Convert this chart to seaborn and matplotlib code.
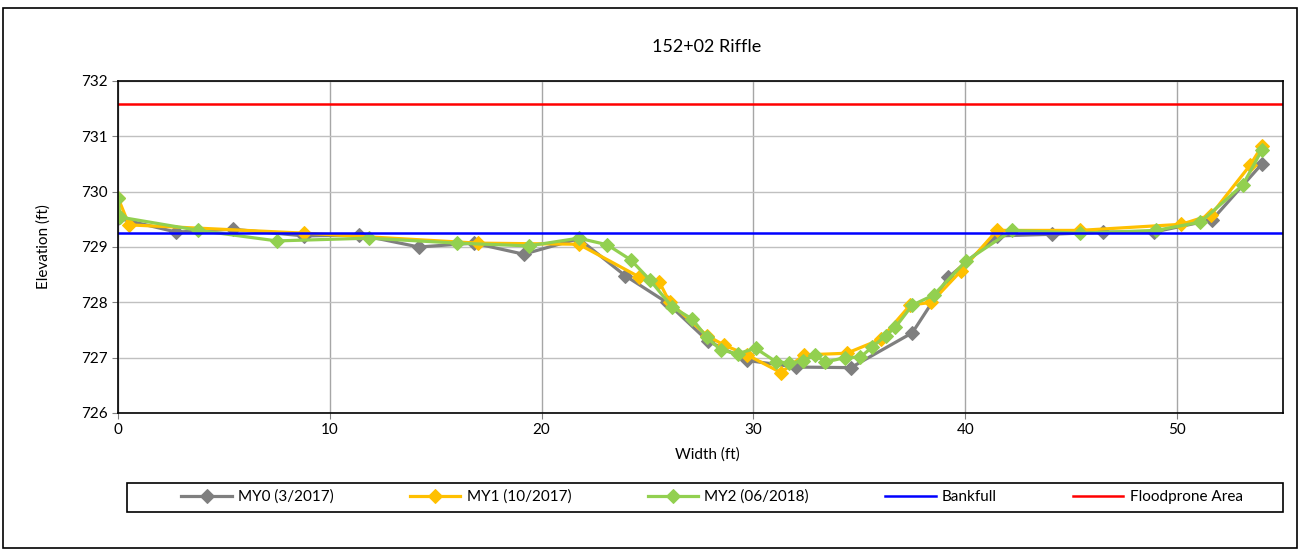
import numpy as np
import pandas as pd
import seaborn as sns
import matplotlib.pyplot as plt
from matplotlib.patches import Rectangle

# survey data
my0_x = [0, 2.75, 5.45, 8.8, 11.4, 14.2, 16.8, 19.15, 21.75, 23.95, 25.9, 27.85, 29.7,
         32.0, 34.6, 37.5, 39.2, 41.5, 44.1, 46.5, 48.9, 51.65, 54.0]
my0_y = [729.52, 729.27, 729.32, 729.2, 729.22, 729.0, 729.07, 728.87, 729.15, 728.48, 728.0, 727.3, 726.95,
         726.83, 726.82, 727.45, 728.45, 729.2, 729.23, 729.27, 729.27, 729.49, 730.5]

my1_x = [0, 0.52, 8.8, 17.0, 21.75, 24.6, 25.55, 26.05, 27.8, 28.6, 29.7, 31.3, 32.4, 34.4,
         36.0, 37.4, 38.4, 39.8, 41.5, 45.4, 50.2, 51.6, 53.45, 54.0]
my1_y = [729.89, 729.4, 729.25, 729.07, 729.05, 728.46, 728.37, 728.0, 727.4, 727.23, 727.05, 726.73, 727.05, 727.08,
         727.33, 727.95, 728.0, 728.57, 729.3, 729.3, 729.41, 729.58, 730.48, 730.82]

my2_x = [0, 0.1, 3.8, 7.5, 11.85, 16.0, 19.4, 21.75, 23.1, 24.2, 25.1, 26.15, 27.1, 27.8, 28.45,
         29.25, 30.1, 31.05, 31.7, 32.35, 32.9, 33.4, 34.3, 35.05, 35.6, 36.25, 36.7, 37.5, 38.5,
         40.05, 42.2, 45.4, 49.0, 51.1, 53.1, 54.0]
my2_y = [729.88, 729.54, 729.3, 729.11, 729.16, 729.07, 729.02, 729.16, 729.04, 728.77, 728.41, 727.92, 727.7, 727.37, 727.14,
         727.07, 727.17, 726.93, 726.9, 726.94, 727.05, 726.92, 727.0, 727.01, 727.19, 727.4, 727.55, 727.95, 728.13,
         728.75, 729.3, 729.25, 729.3, 729.45, 730.12, 730.75]

bankfull = 729.25
floodprone = 731.58

plt.rcParams['font.family'] = ['Lato', 'DejaVu Sans']

fig = plt.figure(figsize=(13, 5.5), dpi=100)
ax = fig.add_axes([118/1300, 1-413/550, (1283-118)/1300, (413-81)/550])

series = [
    ("MY0 (3/2017)", my0_x, my0_y, "#7f7f7f"),
    ("MY1 (10/2017)", my1_x, my1_y, "#ffc000"),
    ("MY2 (06/2018)", my2_x, my2_y, "#92d050"),
]
for name, xs, ys, col in series:
    df = pd.DataFrame({"x": xs, "y": ys})
    sns.lineplot(data=df, x="x", y="y", sort=False, estimator=None, ax=ax,
                 color=col, marker="D", markersize=7, markeredgecolor=col,
                 linewidth=2.3, label=name)

ax.axhline(bankfull, color="#0000ff", linewidth=1.8, label="Bankfull")
ax.axhline(floodprone, color="#ff0000", linewidth=1.8, label="Floodprone Area")

ax.set_xlim(0, 55)
ax.set_ylim(726, 732)
ax.set_xticks([0, 10, 20, 30, 40, 50])
ax.set_yticks(np.arange(726, 733, 1))
ax.grid(True, color="#c0c0c0", linewidth=1)
ax.xaxis.grid(True, color="#a6a6a6", linewidth=1)
ax.set_axisbelow(True)
for s in ax.spines.values():
    s.set_color("black")
    s.set_linewidth(1.2)
ax.tick_params(labelsize=11, length=4, color="#808080")
ax.set_xlabel("")
ax.set_ylabel("Elevation (ft)", fontsize=11, labelpad=22)

fig.text(707/1300, 1-47/550, "152+02 Riffle", fontsize=13, ha="center", va="center")
fig.text(707/1300, 1-455/550, "Width (ft)", fontsize=11, ha="center", va="center")

handles, labels = ax.get_legend_handles_labels()
ax.get_legend().remove()
leg = fig.legend(handles, labels, loc="center", ncol=5,
                 bbox_to_anchor=(712/1300, 1-497/550),
                 fontsize=11, frameon=False, handlelength=3.3,
                 columnspacing=5.0, handletextpad=0.4)

# legend box and outer chart border
fig.patches.append(Rectangle((127/1300, 1-512/550), (1283-127)/1300, 29/550,
                             transform=fig.transFigure, fill=False,
                             edgecolor="black", linewidth=1.2))
fig.patches.append(Rectangle((3/1300, 2/550), 1294/1300, 540/550, transform=fig.transFigure,
                             fill=False, edgecolor="black", linewidth=1.2))

fig.savefig("out.png", dpi=100, facecolor="white")
